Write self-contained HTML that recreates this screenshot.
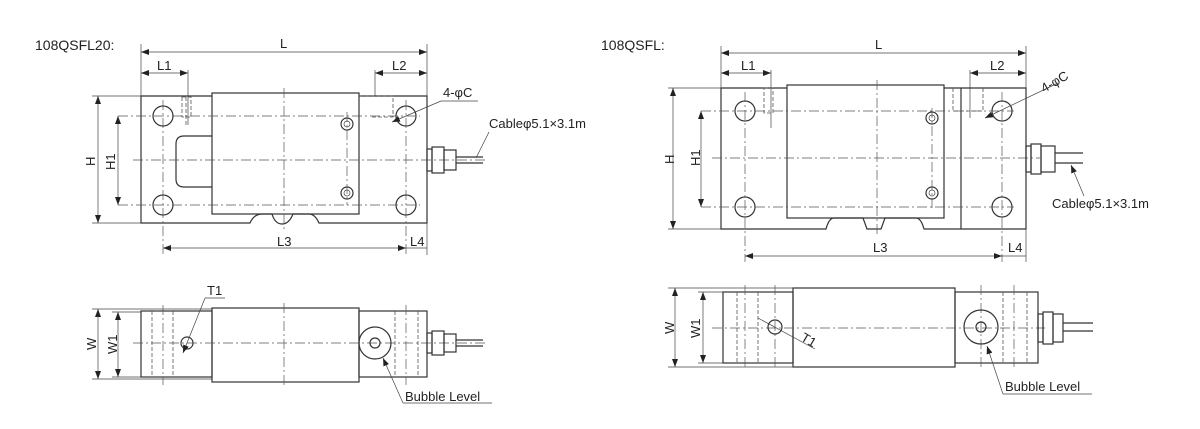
<!DOCTYPE html>
<html><head><meta charset="utf-8"><style>
html,body{margin:0;padding:0;background:#fff;}
svg{display:block;}
text{font-family:"Liberation Sans",Arial,sans-serif;fill:#222;}
.o{fill:none;stroke:#333;stroke-width:1.2}
.t{fill:none;stroke:#444;stroke-width:0.7}
.c{fill:none;stroke:#555;stroke-width:0.7;stroke-dasharray:10 3 2 3}
.d{fill:none;stroke:#555;stroke-width:0.8;stroke-dasharray:4 2}
</style></head><body>
<svg width="1200" height="429" viewBox="0 0 1200 429" xmlns="http://www.w3.org/2000/svg">
<defs>
<marker id="a" markerWidth="8" markerHeight="6" refX="8" refY="3" orient="auto-start-reverse" markerUnits="userSpaceOnUse"><path d="M0,0 L8,3 L0,6z" fill="#222"/></marker>
</defs>
<text x="35" y="50" font-size="14">108QSFL20:</text>
<text x="601" y="50" font-size="14">108QSFL:</text>

<!-- LEFT TOP -->
<g>
<line class="t" x1="141" y1="44" x2="141" y2="96"/><line class="t" x1="427" y1="44" x2="427" y2="96"/>
<line class="t" x1="141" y1="52" x2="427" y2="52" marker-start="url(#a)" marker-end="url(#a)"/>
<text x="280" y="48" font-size="13">L</text>
<line class="t" x1="141" y1="73" x2="188" y2="73" marker-start="url(#a)" marker-end="url(#a)"/>
<line class="t" x1="188" y1="70" x2="188" y2="125"/>
<text x="157" y="70" font-size="13">L1</text>
<line class="t" x1="375" y1="73" x2="427" y2="73" marker-start="url(#a)" marker-end="url(#a)"/>
<line class="t" x1="375" y1="70" x2="375" y2="96"/>
<text x="392" y="70" font-size="13">L2</text>
<path class="o" d="M212,96 H141 V223 H250 Q254,214 262,214 H272 Q275,224 282,224 Q289,224 293,214 H309 Q315,214 319,223 H427 V96 H359"/>
<rect class="o" x="212" y="93" width="147" height="121"/>
<path class="o" d="M212,136 H184 Q176,136 176,144 V179 Q176,187 184,187 H212"/>
<rect class="d" x="182" y="97" width="9" height="20"/><line class="d" x1="186" y1="97" x2="186" y2="127"/>
<path class="d" d="M359,96 H393 V117 H370"/>
<circle class="o" cx="163" cy="116" r="10"/><circle class="o" cx="163" cy="205" r="10"/>
<circle class="o" cx="406" cy="116" r="10"/><circle class="o" cx="406" cy="205" r="10"/>
<circle class="o" cx="347" cy="124" r="6"/><circle class="t" cx="347" cy="124" r="3"/>
<circle class="o" cx="347" cy="193" r="6"/><circle class="t" cx="347" cy="193" r="3"/>
<line class="c" x1="133" y1="160" x2="485" y2="160"/>
<line class="c" x1="284" y1="88" x2="284" y2="230"/>
<line class="c" x1="118" y1="116" x2="420" y2="116"/>
<line class="c" x1="118" y1="205" x2="420" y2="205"/>
<line class="c" x1="163" y1="100" x2="163" y2="255"/>
<line class="c" x1="406" y1="100" x2="406" y2="255"/>
<line class="c" x1="347" y1="112" x2="347" y2="205"/>
<line class="t" x1="92" y1="96" x2="141" y2="96"/><line class="t" x1="92" y1="223" x2="141" y2="223"/>
<line class="t" x1="98" y1="96" x2="98" y2="223" marker-start="url(#a)" marker-end="url(#a)"/>
<line class="t" x1="118" y1="116" x2="118" y2="205" marker-start="url(#a)" marker-end="url(#a)"/>
<text x="0" y="0" font-size="13" transform="translate(95,166) rotate(-90)">H</text>
<text x="0" y="0" font-size="13" transform="translate(115,170) rotate(-90)">H1</text>
<line class="t" x1="163" y1="248" x2="406" y2="248" marker-start="url(#a)" marker-end="url(#a)"/>
<line class="t" x1="406" y1="248" x2="427" y2="248"/>
<line class="t" x1="427" y1="223" x2="427" y2="255"/>
<text x="277" y="246" font-size="13">L3</text>
<text x="410" y="246" font-size="13">L4</text>
<rect class="o" x="427" y="149" width="5" height="22"/>
<rect class="o" x="432" y="147" width="12" height="26"/>
<rect class="o" x="444" y="150" width="12" height="20"/>
<line class="o" x1="456" y1="157" x2="483" y2="157"/><line class="o" x1="456" y1="163" x2="483" y2="163"/>
<text x="443" y="97" font-size="13">4-φC</text>
<line class="t" x1="441" y1="101" x2="478" y2="101"/>
<line class="t" x1="392" y1="122" x2="441" y2="101" marker-start="url(#a)"/>
<text x="489" y="128" font-size="13">Cableφ5.1×3.1m</text>
<line class="t" x1="489" y1="132" x2="476" y2="158"/>
</g>

<!-- RIGHT TOP -->
<g>
<line class="t" x1="721" y1="46" x2="721" y2="88"/><line class="t" x1="1026" y1="46" x2="1026" y2="88"/>
<line class="t" x1="721" y1="53" x2="1026" y2="53" marker-start="url(#a)" marker-end="url(#a)"/>
<text x="875" y="49" font-size="13">L</text>
<line class="t" x1="721" y1="73" x2="771" y2="73" marker-start="url(#a)" marker-end="url(#a)"/>
<line class="t" x1="771" y1="70" x2="771" y2="128"/>
<text x="741" y="70" font-size="13">L1</text>
<line class="t" x1="970" y1="73" x2="1026" y2="73" marker-start="url(#a)" marker-end="url(#a)"/>
<line class="t" x1="970" y1="70" x2="970" y2="118"/>
<text x="990" y="70" font-size="13">L2</text>
<path class="o" d="M787,88 H721 V229 H826 Q829,218 834,218 H863 L867,229 H881 L885,218 H916 Q921,218 924,229 H1026 V88 H944"/>
<rect class="o" x="787" y="85" width="157" height="133"/>
<line class="o" x1="961" y1="88" x2="961" y2="229"/>
<rect class="d" x="764" y="88" width="9" height="25"/>
<path class="d" d="M953,88 V111 H983 V88"/>
<circle class="o" cx="745" cy="111" r="10"/><circle class="o" cx="745" cy="207" r="10"/>
<circle class="o" cx="1002" cy="111" r="10"/><circle class="o" cx="1002" cy="207" r="10"/>
<circle class="o" cx="932" cy="118" r="6"/><circle class="t" cx="932" cy="118" r="3"/>
<circle class="o" cx="932" cy="193" r="6"/><circle class="t" cx="932" cy="193" r="3"/>
<line class="c" x1="712" y1="158" x2="1040" y2="158"/>
<line class="c" x1="877" y1="80" x2="877" y2="236"/>
<line class="c" x1="701" y1="111" x2="1014" y2="111"/>
<line class="c" x1="701" y1="207" x2="1014" y2="207"/>
<line class="c" x1="745" y1="92" x2="745" y2="262"/>
<line class="c" x1="1002" y1="92" x2="1002" y2="262"/>
<line class="c" x1="932" y1="108" x2="932" y2="208"/>
<line class="t" x1="668" y1="88" x2="721" y2="88"/><line class="t" x1="668" y1="229" x2="721" y2="229"/>
<line class="t" x1="673" y1="88" x2="673" y2="229" marker-start="url(#a)" marker-end="url(#a)"/>
<line class="t" x1="701" y1="111" x2="701" y2="207" marker-start="url(#a)" marker-end="url(#a)"/>
<text x="0" y="0" font-size="13" transform="translate(674,164) rotate(-90)">H</text>
<text x="0" y="0" font-size="13" transform="translate(700,166) rotate(-90)">H1</text>
<line class="t" x1="745" y1="256" x2="1002" y2="256" marker-start="url(#a)" marker-end="url(#a)"/>
<line class="t" x1="1002" y1="256" x2="1026" y2="256"/>
<line class="t" x1="1026" y1="229" x2="1026" y2="262"/>
<text x="873" y="252" font-size="13">L3</text>
<text x="1008" y="252" font-size="13">L4</text>
<rect class="o" x="1026" y="146" width="5" height="26"/>
<rect class="o" x="1031" y="144" width="10" height="30"/>
<rect class="o" x="1041" y="146" width="14" height="26"/>
<line class="o" x1="1055" y1="153" x2="1083" y2="153"/><line class="o" x1="1055" y1="163" x2="1083" y2="163"/>
<text x="0" y="0" font-size="13" transform="translate(1044,93) rotate(-30)">4-φC</text>
<line class="t" x1="985" y1="118" x2="1058" y2="83" marker-start="url(#a)"/>
<text x="1052" y="208" font-size="13">Cableφ5.1×3.1m</text>
<line class="t" x1="1071" y1="165" x2="1084" y2="196" marker-start="url(#a)"/>
</g>

<!-- LEFT BOTTOM -->
<g>
<line class="t" x1="92" y1="309" x2="212" y2="309"/><line class="t" x1="92" y1="379" x2="212" y2="379"/>
<line class="t" x1="98" y1="309" x2="98" y2="379" marker-start="url(#a)" marker-end="url(#a)"/>
<line class="t" x1="112" y1="312" x2="141" y2="312"/><line class="t" x1="112" y1="377" x2="141" y2="377"/>
<line class="t" x1="118" y1="312" x2="118" y2="377" marker-start="url(#a)" marker-end="url(#a)"/>
<text x="0" y="0" font-size="13" transform="translate(96,350) rotate(-90)">W</text>
<text x="0" y="0" font-size="13" transform="translate(117,354) rotate(-90)">W1</text>
<rect class="o" x="141" y="311" width="71" height="66"/>
<rect class="o" x="212" y="308" width="147" height="74"/>
<rect class="o" x="359" y="311" width="68" height="66"/>
<line class="d" x1="152" y1="311" x2="152" y2="377"/><line class="d" x1="173" y1="311" x2="173" y2="377"/>
<line class="d" x1="395" y1="311" x2="395" y2="377"/><line class="d" x1="418" y1="311" x2="418" y2="377"/>
<line class="c" x1="163" y1="305" x2="163" y2="385"/><line class="c" x1="406" y1="305" x2="406" y2="385"/>
<line class="c" x1="284" y1="303" x2="284" y2="388"/>
<line class="c" x1="133" y1="343" x2="485" y2="343"/>
<circle class="o" cx="187" cy="343" r="6"/>
<circle class="o" cx="375" cy="343" r="16"/><circle class="o" cx="375" cy="343" r="5"/>
<rect class="o" x="427" y="333" width="5" height="20"/>
<rect class="o" x="432" y="331" width="12" height="24"/>
<rect class="o" x="444" y="334" width="12" height="18"/>
<line class="o" x1="456" y1="340" x2="483" y2="340"/><line class="o" x1="456" y1="346" x2="483" y2="346"/>
<text x="207" y="295" font-size="13">T1</text>
<line class="t" x1="205" y1="298" x2="225" y2="298"/>
<line class="t" x1="205" y1="298" x2="183" y2="353" marker-end="url(#a)"/>
<text x="405" y="401" font-size="13">Bubble Level</text>
<line class="t" x1="403" y1="403" x2="492" y2="403"/>
<line class="t" x1="403" y1="403" x2="383" y2="358" marker-end="url(#a)"/>
</g>

<!-- RIGHT BOTTOM -->
<g>
<line class="t" x1="668" y1="288" x2="793" y2="288"/><line class="t" x1="668" y1="367" x2="793" y2="367"/>
<line class="t" x1="675" y1="288" x2="675" y2="367" marker-start="url(#a)" marker-end="url(#a)"/>
<line class="t" x1="698" y1="292" x2="723" y2="292"/><line class="t" x1="698" y1="363" x2="723" y2="363"/>
<line class="t" x1="703" y1="292" x2="703" y2="363" marker-start="url(#a)" marker-end="url(#a)"/>
<text x="0" y="0" font-size="13" transform="translate(674,334) rotate(-90)">W</text>
<text x="0" y="0" font-size="13" transform="translate(700,338) rotate(-90)">W1</text>
<rect class="o" x="723" y="292" width="70" height="71"/>
<rect class="o" x="793" y="288" width="162" height="79"/>
<rect class="o" x="955" y="292" width="83" height="71"/>
<line class="d" x1="737" y1="292" x2="737" y2="363"/><line class="d" x1="758" y1="292" x2="758" y2="363"/>
<line class="d" x1="1003" y1="292" x2="1003" y2="363"/><line class="d" x1="1027" y1="292" x2="1027" y2="363"/>
<line class="c" x1="745" y1="285" x2="745" y2="370"/><line class="c" x1="775" y1="285" x2="775" y2="370"/>
<line class="c" x1="981" y1="285" x2="981" y2="370"/><line class="c" x1="1014" y1="285" x2="1014" y2="370"/>
<line class="c" x1="712" y1="328" x2="1045" y2="328"/>
<circle class="o" cx="775" cy="327" r="7"/>
<circle class="o" cx="981" cy="327" r="17"/><circle class="o" cx="981" cy="327" r="5"/>
<rect class="o" x="1038" y="314" width="5" height="28"/>
<rect class="o" x="1043" y="312" width="10" height="32"/>
<rect class="o" x="1053" y="314" width="10" height="28"/>
<line class="o" x1="1063" y1="323" x2="1093" y2="323"/><line class="o" x1="1063" y1="331" x2="1093" y2="331"/>
<line class="t" x1="758" y1="318" x2="815" y2="349"/>
<text x="0" y="0" font-size="13" transform="translate(800,340) rotate(30)">T1</text>
<text x="1005" y="391" font-size="13">Bubble Level</text>
<line class="t" x1="1003" y1="394" x2="1092" y2="394"/>
<line class="t" x1="1003" y1="394" x2="987" y2="346" marker-end="url(#a)"/>
</g>
</svg>
</body></html>
